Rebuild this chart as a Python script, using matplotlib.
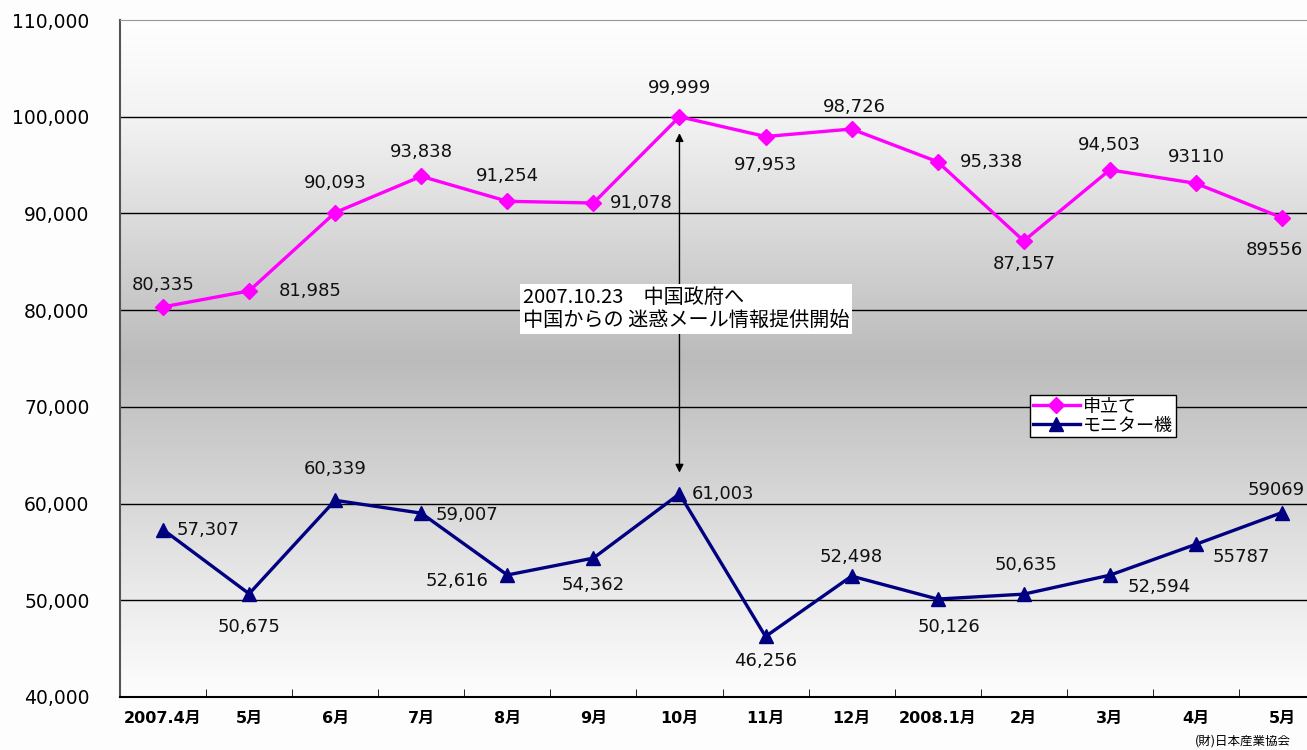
import numpy as np
import matplotlib
matplotlib.use("Agg")
import matplotlib.pyplot as plt
from matplotlib.colors import LinearSegmentedColormap

plt.rcParams['font.family'] = ['DejaVu Sans', 'Noto Sans CJK JP']

months = ["2007.4月", "5月", "6月", "7月", "8月", "9月", "10月", "11月",
          "12月", "2008.1月", "2月", "3月", "4月", "5月"]
moushitate = [80335, 81985, 90093, 93838, 91254, 91078, 99999, 97953,
              98726, 95338, 87157, 94503, 93110, 89556]
moushitate_labels = ["80,335", "81,985", "90,093", "93,838", "91,254", "91,078",
                     "99,999", "97,953", "98,726", "95,338", "87,157", "94,503",
                     "93110", "89556"]
monitor = [57307, 50675, 60339, 59007, 52616, 54362, 61003, 46256,
           52498, 50126, 50635, 52594, 55787, 59069]
monitor_labels = ["57,307", "50,675", "60,339", "59,007", "52,616", "54,362",
                  "61,003", "46,256", "52,498", "50,126", "50,635", "52,594",
                  "55787", "59069"]

# label offsets in pixels (dx, dy), up is positive
m_off = [(0, 22), (61, 0), (0, 30), (0, 24), (0, 25), (48, 0), (0, 29),
         (0, -28), (3, 22), (54, 0), (0, -23), (0, 25), (0, 26), (-8, -32)]
n_off = [(45, 0), (0, -33), (0, 31), (46, -2), (-50, -6), (0, -27), (44, 0),
         (0, -25), (0, 19), (11, -28), (2, 29), (49, -12), (45, -13), (-6, 23)]

fig = plt.figure(figsize=(13.07, 7.5), dpi=100, facecolor='#fdfdfd')
ax = fig.add_axes([120 / 1307, 1 - 697 / 750, (1325 - 120) / 1307, 677 / 750])

x = np.arange(len(months))
ax.set_xlim(-0.5, len(months) - 0.5)
ax.set_ylim(40000, 110000)

# grey band gradient behind the plot
cmap = LinearSegmentedColormap.from_list(
    'bg', [(0.0, '#ffffff'), (0.15, '#f2f2f2'), (0.5, '#bbbbbb'),
           (0.8, '#e4e4e4'), (1.0, '#fefefe')])
grad = np.linspace(0, 1, 256).reshape(-1, 1)
ax.imshow(grad, extent=[-0.5, len(months) - 0.5, 40000, 110000],
          aspect='auto', cmap=cmap, origin='upper', zorder=0)

for yv in range(50000, 110000, 10000):
    ax.axhline(yv, color='black', lw=1.0, zorder=1)

ax.plot(x, moushitate, color='#ff00ff', lw=2.4, marker='D', ms=8,
        label='申立て', zorder=3)
ax.plot(x, monitor, color='#000080', lw=2.4, marker='^', ms=10,
        label='モニター機', zorder=3)

for xi, v, t, (dx, dy) in zip(x, moushitate, moushitate_labels, m_off):
    ax.annotate(t, (xi, v), xytext=(dx, dy), textcoords='offset pixels',
                ha='center', va='center', fontsize=13, color='#111111',
                zorder=4, annotation_clip=False)
for xi, v, t, (dx, dy) in zip(x, monitor, monitor_labels, n_off):
    ax.annotate(t, (xi, v), xytext=(dx, dy), textcoords='offset pixels',
                ha='center', va='center', fontsize=13, color='#111111',
                zorder=4, annotation_clip=False)

# event arrow and note
ax.annotate('', xy=(6, 98300), xytext=(6, 63200),
            arrowprops=dict(arrowstyle='<|-|>', color='black', lw=1.0,
                            mutation_scale=12, shrinkA=0, shrinkB=0),
            zorder=2)
ax.text(4.18, 80100, "2007.10.23　中国政府へ\n中国からの 迷惑メール情報提供開始",
        ha='left', va='center', fontsize=14.5, linespacing=1.1, zorder=5,
        family=['Noto Sans CJK JP'],
        bbox=dict(boxstyle='square,pad=0.15', fc='white', ec='none'))

ax.set_yticks(range(40000, 110001, 10000))
ax.set_yticklabels([f"{v:,}" for v in range(40000, 110001, 10000)], fontsize=13.5)
ax.tick_params(axis='y', length=0, pad=22)
ax.set_xticks(x)
ax.set_xticklabels(months, fontsize=11.5, fontweight='bold')
ax.set_xticks(np.arange(0.5, len(months) - 1, 1), minor=True)
ax.tick_params(axis='x', which='major', length=0, pad=10)
ax.tick_params(axis='x', which='minor', length=6, direction='in', color='black')

ax.spines['left'].set_color('#555555')
ax.spines['left'].set_linewidth(1.5)
ax.spines['bottom'].set_color('black')
ax.spines['bottom'].set_linewidth(1.5)
ax.spines['top'].set_color('#999999')
ax.spines['right'].set_visible(False)

leg = ax.legend(loc='upper left', bbox_to_anchor=(1030 / 1307, 1 - 395 / 750),
                bbox_transform=fig.transFigure, borderaxespad=0,
                prop={'family': ['Noto Sans CJK JP'], 'size': 13},
                fancybox=False, edgecolor='black', framealpha=1,
                handlelength=2.6, handletextpad=0.2, borderpad=0.15,
                labelspacing=0.05)
leg.get_frame().set_linewidth(1.0)

fig.text(1195 / 1307, 0.003, "(財)日本産業協会", fontsize=9, ha='left', va='bottom',
         family=['Noto Sans CJK JP'])

fig.savefig('out.png', dpi=100, facecolor=fig.get_facecolor())
